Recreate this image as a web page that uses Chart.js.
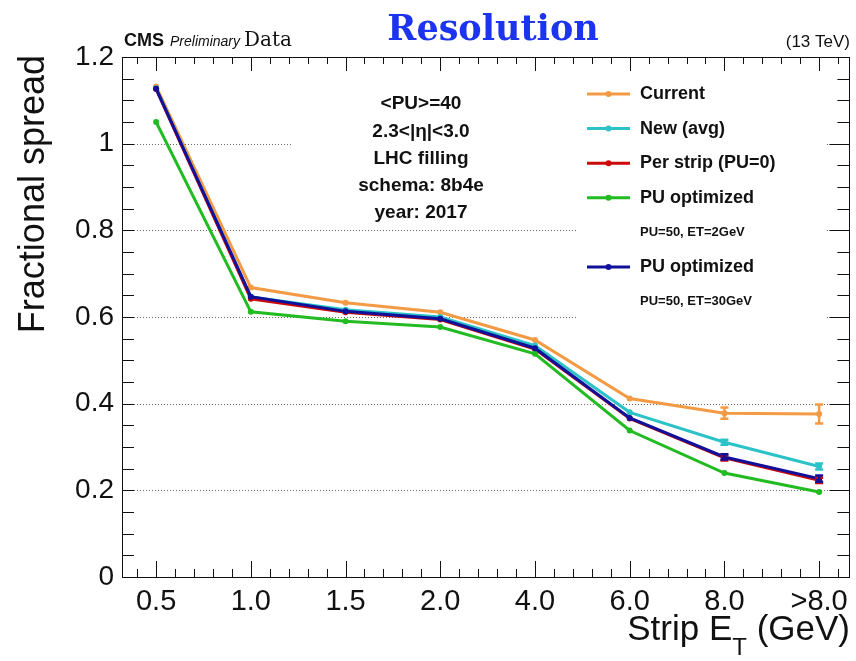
<!DOCTYPE html>
<html lang="en">
<head>
<meta charset="UTF-8" />
<title>Resolution</title>
<script src="https://cdn.jsdelivr.net/npm/chart.js@4.4.0/dist/chart.umd.min.js"></script>
<style>
  html, body { margin: 0; padding: 0; background: #fff; }
  #wrap { width: 856px; height: 661px; }
</style>
</head>
<body>
<div id="wrap"><canvas id="resChart"></canvas></div>
<script>
// strip ET bins (category axis drawn on a linear index scale)
const xLabels = ["0.5", "1.0", "1.5", "2.0", "4.0", "6.0", "8.0", ">8.0"];
const yTicks = [0, 0.2, 0.4, 0.6, 0.8, 1.0, 1.2];
const gridValues = [0.2, 0.4, 0.6, 0.8, 1.0];

// fractional spread per bin
const current = [1.132, 0.668, 0.633, 0.611, 0.547, 0.412, 0.378, 0.376];
const newAvg = [1.128, 0.646, 0.617, 0.600, 0.534, 0.380, 0.311, 0.255];
const perStrip = [1.126, 0.642, 0.611, 0.594, 0.526, 0.366, 0.275, 0.223];
const puOpt2 = [1.050, 0.612, 0.590, 0.577, 0.515, 0.338, 0.240, 0.196];
const puOpt30 = [1.127, 0.647, 0.613, 0.596, 0.528, 0.367, 0.277, 0.227];

// statistical errors (half width)
const currentErr = [0, 0, 0, 0, 0, 0, 0.013, 0.022];
const newAvgErr = [0, 0, 0, 0, 0, 0, 0.006, 0.007];
const perStripErr = [0, 0, 0, 0, 0, 0, 0.006, 0.006];
const puOpt2Err = [0, 0, 0, 0, 0, 0, 0, 0];
const puOpt30Err = [0, 0, 0, 0, 0, 0, 0.006, 0.007];

const series = [
  { label: "Current", data: current, err: currentErr, color: "#f39a45" },
  { label: "New (avg)", data: newAvg, err: newAvgErr, color: "#2cc3c8" },
  { label: "Per strip (PU=0)", data: perStrip, err: perStripErr, color: "#cc0a0a" },
  { label: "PU optimized", data: puOpt2, err: puOpt2Err, color: "#22bb22" },
  { label: "PU optimized", data: puOpt30, err: puOpt30Err, color: "#10109a" },
];

const legendRows = [
  { text: "Current", color: series[0].color },
  { text: "New (avg)", color: series[1].color },
  { text: "Per strip (PU=0)", color: series[2].color },
  { text: "PU optimized", color: series[3].color },
  { text: "PU=50, ET=2GeV" },
  { text: "PU optimized", color: series[4].color },
  { text: "PU=50, ET=30GeV" },
];
const infoLines = ["<PU>=40", "2.3<|\u03b7|<3.0", "LHC filling", "schema: 8b4e", "year: 2017"];

// white panes behind the text boxes (in axis units), they hide the grid
const panes = [
  { x0: 1.44, x1: 4.45, y0: 0.83, y1: 1.12 },
  { x0: 4.45, x1: 7.08, y0: 0.58, y1: 1.15 },
];

const SANS = "'Liberation Sans', Arial, sans-serif";

const rootStyle = {
  id: "rootStyle",
  beforeDatasetsDraw(chart) {
    const { ctx, chartArea: a, scales: { x, y } } = chart;
    ctx.save();
    ctx.strokeStyle = "#666";
    ctx.lineWidth = 1;
    ctx.setLineDash([1, 2]);
    gridValues.forEach(function (v) {
      const py = Math.round(y.getPixelForValue(v)) + 0.5;
      ctx.beginPath();
      ctx.moveTo(a.left, py);
      ctx.lineTo(a.right, py);
      ctx.stroke();
    });
    ctx.setLineDash([]);
    ctx.fillStyle = "#fff";
    panes.forEach(function (p) {
      const l = x.getPixelForValue(p.x0), r = x.getPixelForValue(p.x1);
      const t = y.getPixelForValue(p.y1), b = y.getPixelForValue(p.y0);
      ctx.fillRect(l, t, r - l, b - t);
    });
    ctx.restore();
  },
  afterDatasetsDraw(chart) {
    const { ctx, scales: { x, y } } = chart;
    ctx.save();
    ctx.lineWidth = 2.5;
    series.forEach(function (s) {
      ctx.strokeStyle = s.color;
      s.err.forEach(function (e, i) {
        if (!e) return;
        const px = x.getPixelForValue(i);
        const hi = y.getPixelForValue(s.data[i] + e);
        const lo = y.getPixelForValue(s.data[i] - e);
        ctx.beginPath();
        ctx.moveTo(px, hi); ctx.lineTo(px, lo);
        ctx.moveTo(px - 4, hi); ctx.lineTo(px + 4, hi);
        ctx.moveTo(px - 4, lo); ctx.lineTo(px + 4, lo);
        ctx.stroke();
      });
    });
    ctx.restore();
  },
  afterDraw(chart) {
    const { ctx, chartArea: a, scales: { x, y } } = chart;
    ctx.save();
    // frame
    ctx.strokeStyle = "#111";
    ctx.lineWidth = 1;
    ctx.strokeRect(Math.round(a.left) + 0.5, Math.round(a.top) + 0.5, Math.round(a.right - a.left), Math.round(a.bottom - a.top));

    // ROOT style ticks, inside the frame
    ctx.beginPath();
    for (let k = -1; k <= 36; k++) {
      const v = k * 0.2;
      if (v < x.min || v > x.max) continue;
      const px = Math.round(x.getPixelForValue(v)) + 0.5;
      const major = k % 5 === 0;
      ctx.moveTo(px, a.bottom); ctx.lineTo(px, a.bottom - (major ? 16 : 8));
      ctx.moveTo(px, a.top); ctx.lineTo(px, a.top + (major ? 14 : 7));
    }
    for (let k = 0; k <= 24; k++) {
      const py = Math.round(y.getPixelForValue(k * 0.05)) + 0.5;
      const major = k % 4 === 0;
      ctx.moveTo(a.left, py); ctx.lineTo(a.left + 12, py);
      ctx.moveTo(a.right, py); ctx.lineTo(a.right - (major ? 20 : 12), py);
    }
    ctx.stroke();

    // header
    ctx.fillStyle = "#111";
    ctx.textBaseline = "alphabetic";
    ctx.textAlign = "left";
    ctx.font = "bold 18px " + SANS;
    ctx.fillText("CMS", 124, 46);
    let cx = 124 + ctx.measureText("CMS").width + 6;
    ctx.font = "italic 14px " + SANS;
    ctx.fillText("Preliminary", cx, 46);
    cx += ctx.measureText("Preliminary").width + 4;
    ctx.font = "20px 'DejaVu Serif', serif";
    ctx.fillText("Data", cx, 46);
    ctx.textAlign = "right";
    ctx.font = "17px " + SANS;
    ctx.fillText("(13 TeV)", 850, 47);

    ctx.textAlign = "center";
    ctx.fillStyle = "#1c34f0";
    ctx.font = "bold 35px 'DejaVu Serif', serif";
    ctx.fillText("Resolution", 493, 40);

    // axis titles
    ctx.fillStyle = "#111";
    ctx.save();
    ctx.translate(44, 55);
    ctx.rotate(-Math.PI / 2);
    ctx.textAlign = "right";
    ctx.font = "36px " + SANS;
    ctx.fillText("Fractional spread", 0, 0);
    ctx.restore();

    ctx.textAlign = "left";
    ctx.font = "35px " + SANS;
    const w1 = ctx.measureText("Strip E").width;
    const w3 = ctx.measureText(" (GeV)").width;
    ctx.font = "24px " + SANS;
    const w2 = ctx.measureText("T").width;
    let tx = 850 - w1 - w2 - w3;
    ctx.font = "35px " + SANS;
    ctx.fillText("Strip E", tx, 640);
    ctx.font = "24px " + SANS;
    ctx.fillText("T", tx + w1, 655);
    ctx.font = "35px " + SANS;
    ctx.fillText(" (GeV)", tx + w1 + w2, 640);

    // info box
    ctx.textAlign = "center";
    ctx.textBaseline = "middle";
    ctx.font = "bold 19px " + SANS;
    infoLines.forEach(function (t, i) {
      ctx.fillText(t, 421, 104 + i * 27.3);
    });

    // legend
    ctx.textAlign = "left";
    legendRows.forEach(function (r, i) {
      const cy = 94 + i * 34.6;
      if (r.color) {
        ctx.strokeStyle = r.color;
        ctx.fillStyle = r.color;
        ctx.lineWidth = 3;
        ctx.beginPath();
        ctx.moveTo(587, cy); ctx.lineTo(630, cy);
        ctx.stroke();
        ctx.beginPath();
        ctx.arc(608.5, cy, 3, 0, Math.PI * 2);
        ctx.fill();
        ctx.font = "bold 18px " + SANS;
      } else {
        ctx.font = "bold 13px " + SANS;
      }
      ctx.fillStyle = "#111";
      ctx.fillText(r.text, 640, cy);
    });
    ctx.restore();
  },
};

const ctx = document.querySelector("#resChart").getContext("2d");
const myChart = new Chart(ctx, {
  type: "line",
  data: {
    datasets: series.map(function (s, k) {
      return {
        label: s.label,
        data: s.data.map(function (v, i) { return { x: i, y: v }; }),
        borderColor: s.color,
        backgroundColor: s.color,
        pointBackgroundColor: s.color,
        borderWidth: 3,
        pointRadius: 3,
        pointBorderWidth: 0,
        tension: 0,
        order: series.length - k,
      };
    }),
  },
  options: {
    responsive: true,
    maintainAspectRatio: false,
    animation: false,
    layout: { padding: { top: 57, right: 6, left: 0, bottom: 0 } },
    plugins: {
      legend: { display: false },
      tooltip: { enabled: false },
    },
    scales: {
      x: {
        type: "linear",
        min: -0.36,
        max: 7.32,
        afterBuildTicks: function (s) { s.ticks = xLabels.map(function (_, i) { return { value: i }; }); },
        afterFit: function (s) { s.height = 84; },
        grid: { display: false, drawTicks: false },
        border: { display: false },
        ticks: {
          callback: function (v) { return xLabels[v]; },
          font: { family: SANS, size: 29 },
          color: "#111",
          padding: 8,
          maxRotation: 0,
          autoSkip: false,
        },
      },
      y: {
        min: 0,
        max: 1.2,
        afterBuildTicks: function (s) { s.ticks = yTicks.map(function (v) { return { value: v }; }); },
        afterFit: function (s) { s.width = 122; },
        grid: { display: false, drawTicks: false },
        border: { display: false },
        ticks: {
          callback: function (v) { return v === 0 ? "0" : v === 1 ? "1" : v.toFixed(1); },
          font: { family: SANS, size: 28 },
          color: "#111",
          padding: 8,
        },
      },
    },
  },
  plugins: [rootStyle],
});
</script>
</body>
</html>
